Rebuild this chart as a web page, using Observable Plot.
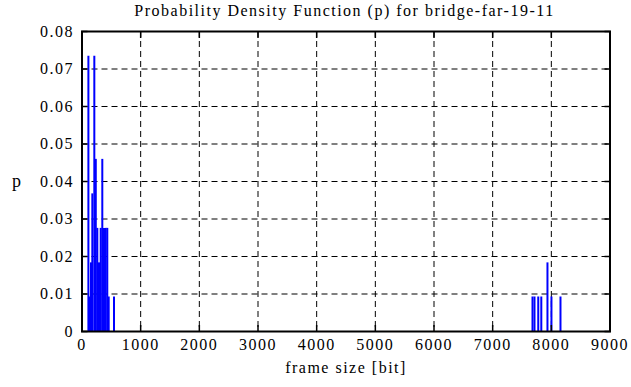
<!DOCTYPE html>
<html>
<head>
<meta charset="utf-8">
<script src="https://cdn.jsdelivr.net/npm/d3@7"></script>
<script src="https://cdn.jsdelivr.net/npm/@observablehq/plot@0.6"></script>
<style>
  body { margin: 0; background: #fff; }
  #title { width: 573px; padding-left: 58px; height: 24px; line-height: 22px; text-align: center;
           font-family: "Liberation Serif", serif; font-size: 16px; letter-spacing: 1.5px; color: #000; }
  svg text { letter-spacing: 1.5px; }
</style>
</head>
<body>
<div id="title">Probability Density Function (p) for bridge-far-19-11</div>
<div id="chart"></div>
<script>
const frameSizes = [109, 136, 153, 176, 210, 235, 261, 290, 319, 346, 375, 404, 431, 455, 545,
                    7679, 7713, 7777, 7829, 7934, 8002, 8156];
const probabilities = [0.0734, 0.0092, 0.0183, 0.0367, 0.0734, 0.0459, 0.0275, 0.0183, 0.0275, 0.0459, 0.0275, 0.0275, 0.0275, 0.0092, 0.0092,
                       0.0092, 0.0092, 0.0092, 0.0092, 0.0183, 0.0092, 0.0092];
const xTicks = [0, 1000, 2000, 3000, 4000, 5000, 6000, 7000, 8000, 9000];
const yTicks = [0, 0.01, 0.02, 0.03, 0.04, 0.05, 0.06, 0.07, 0.08];
const yTickLabels = ["0", "0.01", "0.02", "0.03", "0.04", "0.05", "0.06", "0.07", "0.08"];

const data = frameSizes.map((s, i) => ({size: s, p: probabilities[i]}));
const font = {fontFamily: "Liberation Serif", fontSize: 16};

const chart = Plot.plot({
  width: 631,
  height: 363,
  marginLeft: 81.5,
  marginRight: 21.5,
  marginTop: 7,
  marginBottom: 56,
  style: {fontFamily: "Liberation Serif", fontSize: "16px", color: "#000", background: "#fff"},
  x: {domain: [0, 9000]},
  y: {domain: [0, 0.08]},
  marks: [
    Plot.gridX(xTicks.slice(1, -1), {stroke: "#000", strokeOpacity: 1, strokeWidth: 1, strokeDasharray: "6,4"}),
    Plot.gridY(yTicks.slice(1, -1), {stroke: "#000", strokeOpacity: 1, strokeWidth: 1, strokeDasharray: "6,4"}),
    Plot.ruleX(data, {x: "size", y: "p", stroke: "#0000ff", strokeWidth: 2}),
    // inward ticks on all four sides
    Plot.axisX(xTicks, {anchor: "bottom", tickSize: 6, dy: -6, text: null, label: null, strokeWidth: 1.5}),
    Plot.axisX(xTicks, {anchor: "top", tickSize: 6, dy: 6, text: null, label: null, strokeWidth: 1.5}),
    Plot.axisY(yTicks, {anchor: "left", tickSize: 6, dx: 6, text: null, label: null, strokeWidth: 1.5}),
    Plot.axisY(yTicks, {anchor: "right", tickSize: 6, dx: -6, text: null, label: null, strokeWidth: 1.5}),
    // tick labels
    Plot.axisX(xTicks, {anchor: "bottom", tickSize: 0, tickPadding: 7, tickFormat: d => String(d), label: null, fill: "#000", ...font}),
    Plot.axisY(yTicks, {anchor: "left", tickSize: 0, tickPadding: 8, tickFormat: (d, i) => yTickLabels[i], label: null, fill: "#000", ...font}),
    Plot.frame({stroke: "#000", strokeWidth: 2}),
    Plot.text(["frame size [bit]"], {frameAnchor: "bottom", dy: 41, fill: "#000", ...font}),
    Plot.text(["p"], {frameAnchor: "left", dx: -70, fill: "#000", fontFamily: "Liberation Serif", fontSize: 18})
  ]
});
document.getElementById("chart").appendChild(chart);
</script>
</body>
</html>
